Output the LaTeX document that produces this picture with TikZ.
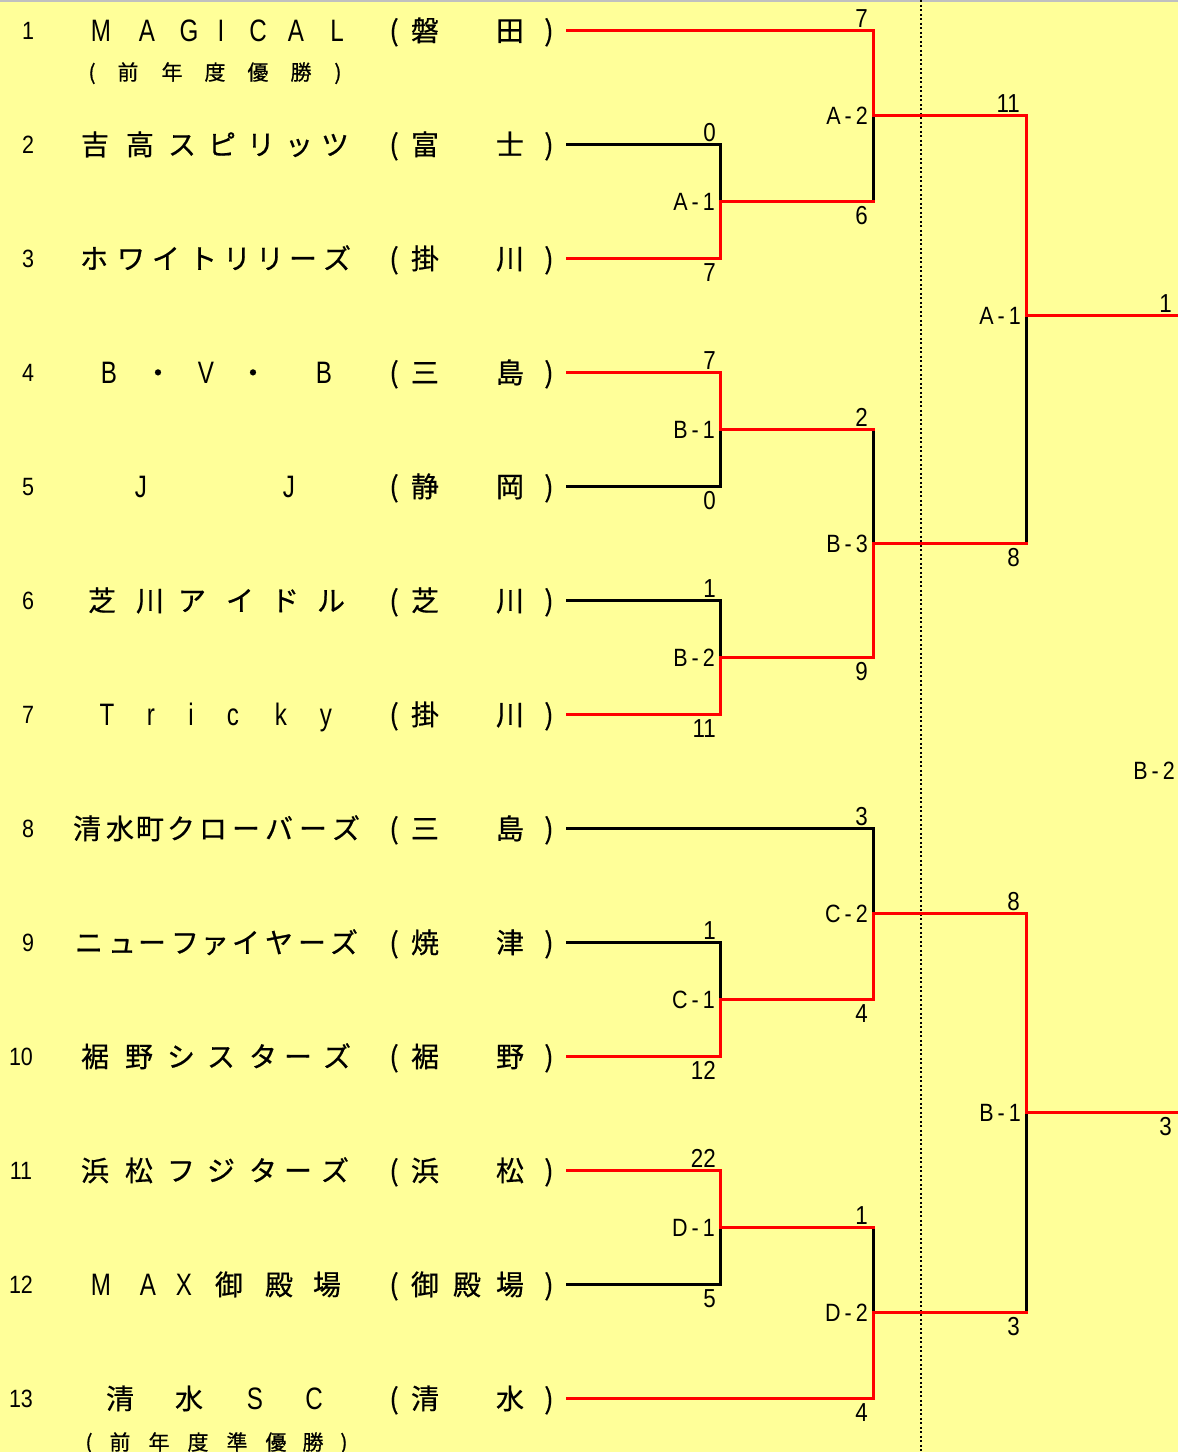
\documentclass[tikz,border=0pt]{standalone}
\usepackage{fontspec}
\newfontfamily\jpfont{Noto Sans CJK JP}[FakeBold=0.6]
\newfontfamily\numfont{Liberation Sans}[FakeStretch=0.86]
\newfontfamily\latfont{Liberation Sans}[FakeStretch=0.78]
\newcommand\mylat{\latfont\fontsize{31}{31}\selectfont}
\definecolor{bgyellow}{HTML}{FFFF99}
\definecolor{wred}{HTML}{FF0000}
\definecolor{topgray}{HTML}{C0C0C0}
\newcommand\tchars[3]{%
  \foreach \ch/\xx [count=\i] in {#3} {\node[nm] (#1-\i) at (\xx,#2) {\ch};}}
\begin{document}
\begin{tikzpicture}[x=1pt,y=-1pt,
  nm/.style={font=\jpfont\fontsize{28}{28}\selectfont, anchor=base, inner sep=0pt},
  subt/.style={font=\jpfont\fontsize{21}{21}\selectfont, anchor=base, inner sep=0pt},
  rownum/.style={font=\numfont\fontsize{25}{25}\selectfont, anchor=base, inner sep=0pt},
  sc/.style={font=\numfont\fontsize{26}{26}\selectfont, anchor=base east, inner sep=0pt},
  lbl/.style={font=\numfont\fontsize{25}{25}\selectfont, anchor=base east, inner sep=0pt},
  win/.style={draw=wred, line width=3pt, line cap=rect},
  lose/.style={draw=black, line width=3pt, line cap=rect}]
\fill[bgyellow] (0,0) rectangle (1178,1452);
\useasboundingbox (0,0) rectangle (1178,1452);
\draw[topgray, line width=2pt] (0,1) -- (1178,1);
% dotted separator
\draw[black, line width=2pt, dash pattern=on 2pt off 2.5pt] (921,0) -- (921,1452);

% row numbers
\foreach \n/\yy/\xx in {1/30/28,2/144/28,3/258/28,4/372/28,5/486/28,6/600/28,7/714/28,8/828/28,9/942/28,10/1056/21,11/1170/21,12/1284/21,13/1398/21}
  {\node[rownum] (num\n) at (\xx,\yy+9) {\n};}

% team names
\tchars{n1}{41}{{\mylat M}/101,{\mylat A}/147,{\mylat G}/189,{\mylat I}/221,{\mylat C}/258,{\mylat A}/296,{\mylat L}/337}
\tchars{n2}{155}{吉/95,高/140,ス/182,ピ/222,リ/261,ッ/299,ツ/335}
\tchars{n3}{269}{ホ/94,ワ/131,イ/166,ト/203,リ/237,リ/270,ー/303,ズ/337}
\tchars{n4}{383}{{\mylat B}/109,・/158,{\mylat V}/206,・/253,{\mylat B}/324}
\tchars{n5}{497}{{\mylat J}/141,{\mylat J}/289}
\tchars{n6}{611}{芝/102,川/150,ア/192,イ/240,ド/285,ル/331}
\tchars{n7}{725}{{\mylat T}/107,{\mylat r}/151,{\mylat i}/191,{\mylat c}/233,{\mylat k}/281,{\mylat y}/326}
\tchars{n8}{839}{清/87,水/120,町/150,ク/181,ロ/213,ー/246,バ/279,ー/313,ズ/346}
\tchars{n9}{953}{ニ/89,ュ/122,ー/152,フ/185,ァ/215,イ/246,ヤ/279,ー/312,ズ/344}
\tchars{n10}{1067}{裾/95,野/139,シ/181,ス/221,タ/263,ー/298,ズ/337}
\tchars{n11}{1181}{浜/95,松/139,フ/181,ジ/221,タ/263,ー/298,ズ/335}
\tchars{n12}{1295}{{\mylat M}/101,{\mylat A}/148,{\mylat X}/184,御/229,殿/279,場/327}
\tchars{n13}{1409}{清/120,水/189,{\mylat S}/255,{\mylat C}/314}

% subtitles
\foreach \ch/\xx [count=\i] in {{(}/92,前/128,年/172,度/215,優/258,勝/301,{)}/338}
  {\node[subt] (s1-\i) at (\xx,80) {\ch};}
\foreach \ch/\xx [count=\i] in {{(}/89,前/120,年/159,度/198,準/237,優/276,勝/313,{)}/344}
  {\node[subt] (s13-\i) at (\xx,1450) {\ch};}

% places
\foreach \r/\yy/\a/\b in {1/30/磐/田,2/144/富/士,3/258/掛/川,4/372/三/島,5/486/静/岡,6/600/芝/川,7/714/掛/川,8/828/三/島,9/942/焼/津,10/1056/裾/野,11/1170/浜/松,13/1398/清/水}
  {\node[nm] (pl\r-o) at (394,\yy+11) {(};
   \node[nm] (pl\r-a) at (425,\yy+11) {\a};
   \node[nm] (pl\r-b) at (510,\yy+11) {\b};
   \node[nm] (pl\r-c) at (549,\yy+11) {)};}
\node[nm] (pl12-o) at (394,1295) {(};
\node[nm] (pl12-a) at (425,1295) {御};
\node[nm] (pl12-m) at (467,1295) {殿};
\node[nm] (pl12-b) at (510,1295) {場};
\node[nm] (pl12-c) at (549,1295) {)};

% coordinates
\foreach \n/\yy in {1/30,2/144,3/258,4/372,5/486,6/600,7/714,8/828,9/942,10/1056,11/1170,12/1284,13/1398}
  {\coordinate (t\n) at (567,\yy);}
\coordinate (r1a) at (720,201);  \coordinate (e1a) at (873,201);
\coordinate (r1b) at (720,429);  \coordinate (e1b) at (873,429);
\coordinate (r1c) at (720,657);  \coordinate (e1c) at (873,657);
\coordinate (r1d) at (720,999);  \coordinate (e1d) at (873,999);
\coordinate (r1e) at (720,1227); \coordinate (e1e) at (873,1227);
\coordinate (r2a) at (873,115);  \coordinate (e2a) at (1026,115);
\coordinate (r2b) at (873,543);  \coordinate (e2b) at (1026,543);
\coordinate (r2c) at (873,913);  \coordinate (e2c) at (1026,913);
\coordinate (r2d) at (873,1312); \coordinate (e2d) at (1026,1312);
\coordinate (r3a) at (1026,315); \coordinate (f1) at (1178,315);
\coordinate (r3b) at (1026,1112);\coordinate (f2) at (1178,1112);

% losing lines (black)
\draw[lose] (t2) -| (r1a);
\draw[lose] (e1a) -- (r2a);
\draw[lose] (t5) -| (r1b);
\draw[lose] (t6) -| (r1c);
\draw[lose] (e1b) -- (r2b);
\draw[lose] (e2b) -- (r3a);
\draw[lose] (t9) -| (r1d);
\draw[lose] (t8) -| (r2c);
\draw[lose] (t12) -| (r1e);
\draw[lose] (e1e) -- (r2d);
\draw[lose] (e2d) -- (r3b);
% winning lines (red)
\draw[win] (t3) -| (r1a);
\draw[win] (r1a) -- (e1a);
\draw[win] (t1) -| (r2a);
\draw[win] (r2a) -- (e2a);
\draw[win] (t4) -| (r1b);
\draw[win] (r1b) -- (e1b);
\draw[win] (t7) -| (r1c);
\draw[win] (r1c) -- (e1c);
\draw[win] (e1c) -- (r2b);
\draw[win] (r2b) -- (e2b);
\draw[win] (e2a) -- (r3a);
\draw[win] (r3a) -- (f1);
\draw[win] (t10) -| (r1d);
\draw[win] (r1d) -- (e1d);
\draw[win] (e1d) -- (r2c);
\draw[win] (r2c) -- (e2c);
\draw[win] (t11) -| (r1e);
\draw[win] (r1e) -- (e1e);
\draw[win] (t13) -| (r2d);
\draw[win] (r2d) -- (e2d);
\draw[win] (e2c) -- (r3b);
\draw[win] (r3b) -- (f2);

% match labels
\node[lbl] (lA1) at (715,210) {A\kern4pt-\kern4pt1};
\node[lbl] (lA2) at (868,124) {A\kern4pt-\kern4pt2};
\node[lbl] (lB1) at (715,438) {B\kern4pt-\kern4pt1};
\node[lbl] (lB2) at (715,666) {B\kern4pt-\kern4pt2};
\node[lbl] (lB3) at (868,552) {B\kern4pt-\kern4pt3};
\node[lbl] (lC1) at (715,1008) {C\kern4pt-\kern4pt1};
\node[lbl] (lC2) at (868,922) {C\kern4pt-\kern4pt2};
\node[lbl] (lD1) at (715,1236) {D\kern4pt-\kern4pt1};
\node[lbl] (lD2) at (868,1321) {D\kern4pt-\kern4pt2};
\node[lbl] (lRA1) at (1021,324) {A\kern4pt-\kern4pt1};
\node[lbl] (lRB1) at (1021,1121) {B\kern4pt-\kern4pt1};
\node[lbl] (lF) at (1175,779) {B\kern4pt-\kern4pt2};

% scores
\foreach \s/\xx/\yy [count=\i] in {7/868/27,0/716/141,11/1020/112,7/716/369,2/868/426,1/716/597,1/1172/312,3/868/825,1/716/939,8/1020/910,22/716/1167,1/868/1224,
  7/716/281,6/868/224,0/716/509,11/716/737,9/868/680,8/1020/566,12/716/1079,4/868/1022,3/1172/1135,5/716/1307,3/1020/1335,4/868/1421}
  {\node[sc] (sc\i) at (\xx,\yy) {\s};}
\end{tikzpicture}
\end{document}
